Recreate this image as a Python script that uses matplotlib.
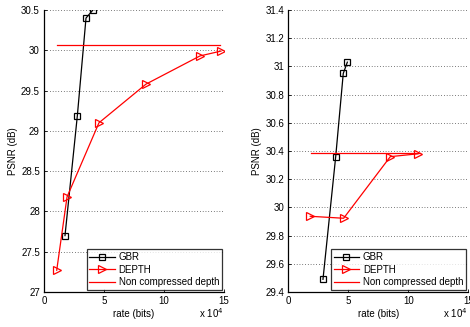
import matplotlib
matplotlib.use("Agg")
import matplotlib.pyplot as plt
import numpy as np

plt.rcParams['font.family'] = ['Liberation Sans', 'DejaVu Sans']

# Left panel data
gbr1_x = [1.75e4, 2.78e4, 3.5e4, 4.08e4]
gbr1_y = [27.70, 29.19, 30.40, 30.50]
dep1_x = [1.06e4, 1.92e4, 4.58e4, 8.5e4, 13.0e4, 14.75e4]
dep1_y = [27.27, 28.18, 29.10, 29.58, 29.93, 29.99]
nc1_x = [1.06e4, 14.67e4]
nc1_y = [30.06, 30.06]

# Right panel data
gbr2_x = [2.89e4, 3.95e4, 4.58e4, 4.92e4]
gbr2_y = [29.49, 30.36, 30.95, 31.03]
dep2_x = [1.83e4, 4.61e4, 8.5e4, 10.8e4]
dep2_y = [29.937, 29.923, 30.36, 30.38]
nc2_x = [1.9e4, 11.0e4]
nc2_y = [30.384, 30.384]

labels = ['GBR', 'DEPTH', 'Non compressed depth']
xticks = [0, 5e4, 10e4, 15e4]
xticklabels = ['0', '5', '10', '15']
yticks1 = [27, 27.5, 28, 28.5, 29, 29.5, 30, 30.5]
yticks2 = [29.4, 29.6, 29.8, 30, 30.2, 30.4, 30.6, 30.8, 31, 31.2, 31.4]

fig = plt.figure(figsize=(4.7, 3.27), dpi=100)
ax1 = fig.add_axes([44/470, 1-292/327, 180/470, 282/327])
ax2 = fig.add_axes([288.3/470, 1-292/327, 180/470, 282/327])

def draw(ax, gx, gy, dx, dy, nx, ny, ylim, yticks, ytl):
    ax.plot(gx, gy, color='black', lw=0.9, marker='s', ms=4, mfc='none', mec='black', mew=0.9, label=labels[0])
    ax.plot(dx, dy, color='red', lw=0.9, marker='>', ms=5.5, mfc='none', mec='red', mew=0.9, label=labels[1])
    ax.plot(nx, ny, color='red', lw=0.9, label=labels[2])
    ax.set_xlim(0, 15e4)
    ax.set_ylim(*ylim)
    ax.set_xticks(xticks)
    ax.set_xticklabels(xticklabels)
    ax.set_yticks(yticks)
    ax.set_yticklabels(ytl)
    ax.tick_params(direction='in', labelsize=7, length=2, width=0.6, pad=3)
    for s in ['top', 'right']:
        ax.spines[s].set_visible(False)
    for s in ['left', 'bottom']:
        ax.spines[s].set_linewidth(0.9)
    ax.yaxis.grid(True, linestyle=(0, (1, 3)), color='black', lw=0.5)
    ax.set_axisbelow(True)
    ax.set_ylabel('PSNR (dB)', fontsize=7, labelpad=2)
    ax.set_xlabel('rate (bits)', fontsize=7, labelpad=2)
    ax.text(0.995, -0.092, r'x 10$^4$', transform=ax.transAxes, ha='right', va='baseline', fontsize=7)
    leg = ax.legend(loc='lower right', fontsize=7, frameon=True, fancybox=False,
                    borderaxespad=0.2, handlelength=2.6, handletextpad=0.4,
                    labelspacing=0.25, borderpad=0.3)
    leg.get_frame().set_edgecolor('black')
    leg.get_frame().set_linewidth(0.9)

draw(ax1, gbr1_x, gbr1_y, dep1_x, dep1_y, nc1_x, nc1_y, (27, 30.5), yticks1,
     ['27', '27.5', '28', '28.5', '29', '29.5', '30', '30.5'])
draw(ax2, gbr2_x, gbr2_y, dep2_x, dep2_y, nc2_x, nc2_y, (29.4, 31.4), yticks2,
     ['29.4', '29.6', '29.8', '30', '30.2', '30.4', '30.6', '30.8', '31', '31.2', '31.4'])

fig.savefig('out.png', dpi=100)
